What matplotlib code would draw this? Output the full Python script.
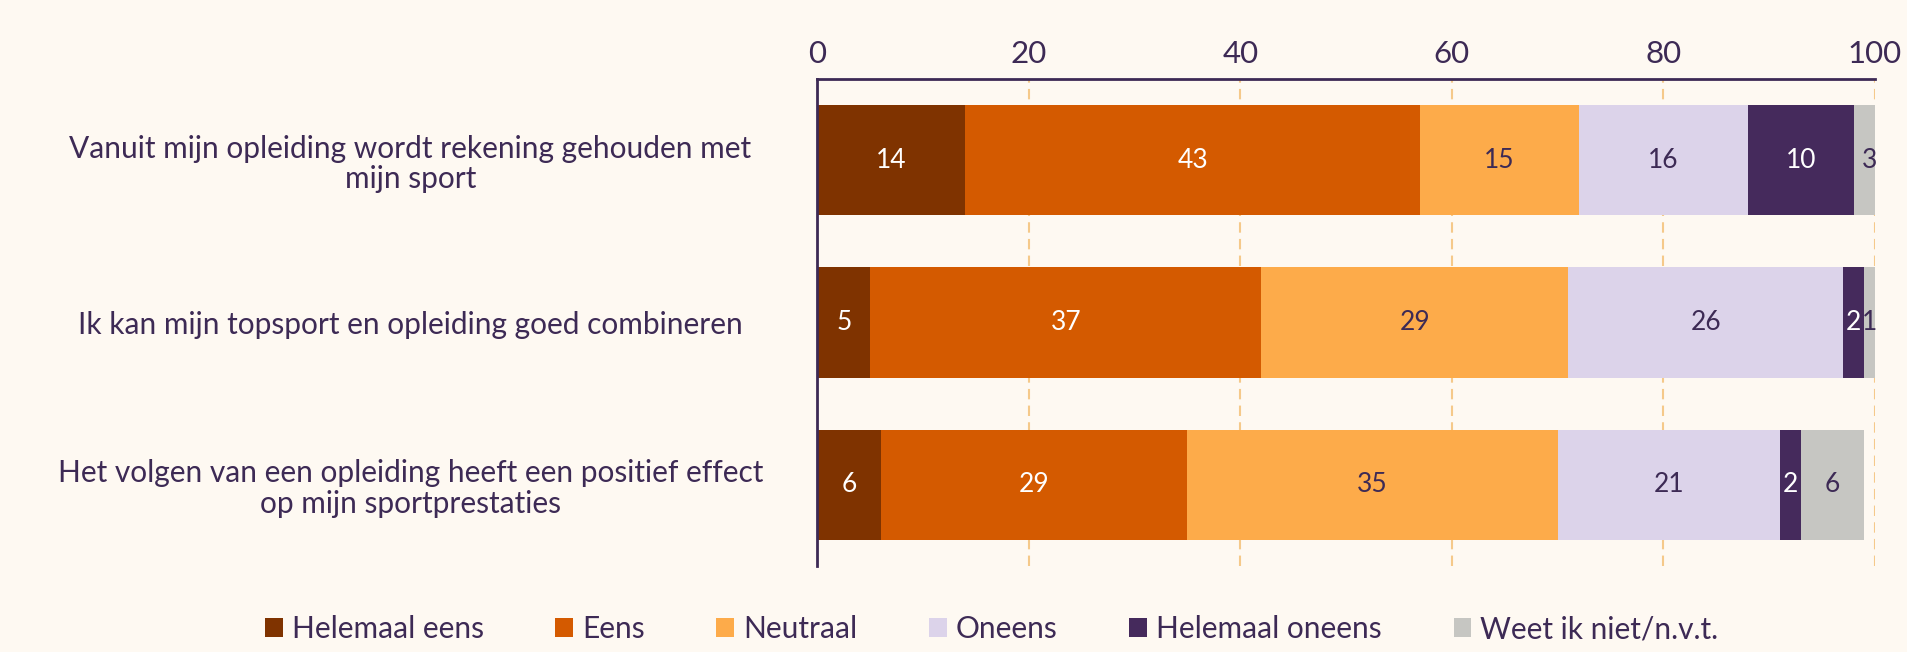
import matplotlib
matplotlib.use("Agg")
import matplotlib.pyplot as plt
import numpy as np

plt.rcParams['font.family'] = ['Lato', 'DejaVu Sans']

categories = ["Vanuit mijn opleiding wordt rekening gehouden met\nmijn sport",
              "Ik kan mijn topsport en opleiding goed combineren",
              "Het volgen van een opleiding heeft een positief effect\nop mijn sportprestaties"]
series = ["Helemaal eens", "Eens", "Neutraal", "Oneens", "Helemaal oneens", "Weet ik niet/n.v.t."]
values = [[14, 5, 6], [43, 37, 29], [15, 29, 35], [16, 26, 21], [10, 2, 2], [3, 1, 6]]
colors = ["#7f3300", "#d45a00", "#fdab4a", "#dcd3ea", "#452a5c", "#c6c6c2"]
textcolors = ["white", "white", "#3d2a55", "#3d2a55", "white", "#3d2a55"]
tc = "#3d2a55"
bg = "#fef9f2"

fig = plt.figure(figsize=(19.07, 6.52), dpi=100, facecolor=bg)
ax = fig.add_axes([0.4286, 0.132, 0.5545, 0.747], facecolor=bg)
y = np.arange(len(categories))
left = np.zeros(len(categories))
for s, vals, c, t in zip(series, values, colors, textcolors):
    vals = np.array(vals, float)
    ax.barh(y, vals, left=left, color=c, height=0.68, label=s, zorder=2)
    for yi, v, l in zip(y, vals, left):
        ax.text(l + v / 2, yi, f"{int(v)}", ha="center", va="center", color=t, fontsize=19, zorder=3)
    left += vals
ax.set_xlim(0, 100)
ax.set_ylim(2.5, -0.5)
ax.set_yticks(y)
ax.set_yticklabels(categories, fontsize=21.5, color=tc, ha="center", linespacing=1.1)
ax.tick_params(axis="y", length=0, pad=0)
for lab in ax.get_yticklabels():
    lab.set_x(-0.385)
ax.xaxis.tick_top()
ax.set_xticks([0, 20, 40, 60, 80, 100])
ax.tick_params(axis="x", length=0, labelsize=22.5, colors=tc, pad=8)
ax.grid(axis="x", color="#f5c98a", linestyle=(0, (5, 3)), linewidth=1.5, zorder=0)
for sp in ["right", "bottom"]:
    ax.spines[sp].set_visible(False)
for sp in ["left", "top"]:
    ax.spines[sp].set_color(tc)
    ax.spines[sp].set_linewidth(2)
leg = fig.legend(loc="center", bbox_to_anchor=(0.52, 0.035), ncol=6, frameon=False,
                 fontsize=21.5, handlelength=0.6, handleheight=0.6, columnspacing=2.4, handletextpad=0.3)
for t in leg.get_texts():
    t.set_color(tc)
fig.savefig("out.png", dpi=100, facecolor=bg)
